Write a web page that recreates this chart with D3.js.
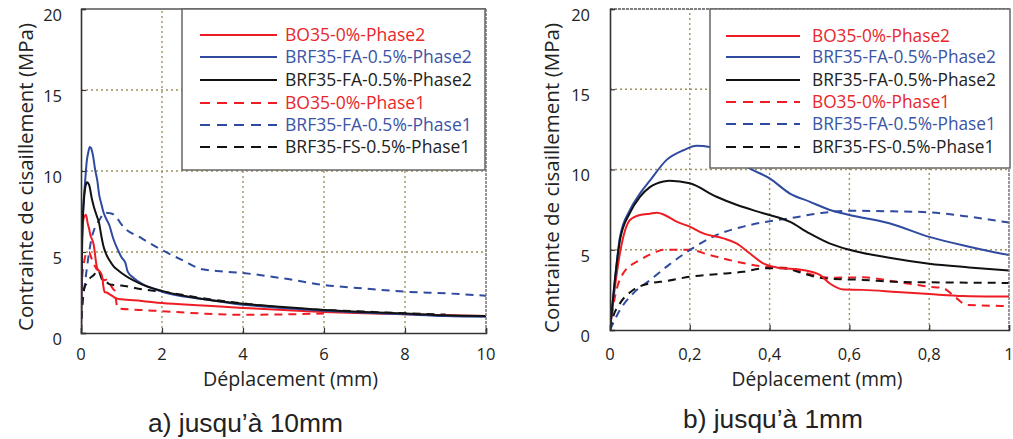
<!DOCTYPE html>
<html><head><meta charset="utf-8">
<script src="https://cdn.jsdelivr.net/npm/d3@7"></script>
<style>body{margin:0;background:#fff} svg{display:block}</style>
</head><body>
<svg id="c" width="1013" height="439"></svg>
<script>
// ---------- DATA ----------
const legendLabels = ["BO35-0%-Phase2","BRF35-FA-0.5%-Phase2","BRF35-FA-0.5%-Phase2","BO35-0%-Phase1","BRF35-FA-0.5%-Phase1","BRF35-FS-0.5%-Phase1"];
const bo35Phase2 = [[0,0],[0.01,2.2],[0.025,4.8],[0.05,6.85],[0.075,7.17],[0.1,7.25],[0.117,7.3],[0.134,7.2],[0.167,6.75],[0.2,6.44],[0.234,6.02],[0.284,5.71],[0.317,5.4],[0.35,4.78],[0.384,4.15],[0.418,3.9],[0.484,3.74],[0.526,3.43],[0.551,2.9],[0.585,2.52],[0.634,2.5],[0.718,2.37],[0.8,2.24],[0.885,2.12],[1,2.08],[1.5,1.98],[2,1.85],[3,1.7],[4,1.55],[5,1.42],[6,1.3],[7,1.22],[8,1.15],[9,1.1],[10,1.05]];
const brfFA2Blue = [[0,0],[0.01,2.5],[0.025,5.8],[0.05,7.48],[0.075,8.5],[0.1,9.3],[0.142,10.6],[0.184,11.2],[0.217,11.48],[0.25,11.4],[0.3,10.9],[0.35,10.07],[0.4,9.45],[0.451,8.5],[0.5,8.0],[0.551,7.48],[0.6,7.17],[0.7,6.65],[0.8,5.8],[0.9,5.19],[1,4.67],[1.1,4.3],[1.15,3.8],[1.3,3.4],[1.5,3.05],[2,2.55],[3,2.1],[4,1.75],[5,1.55],[6,1.38],[7,1.25],[8,1.15],[9,1.05],[10,1.0]];
const brfFA2Black = [[0,0],[0.01,2.6],[0.025,5.6],[0.05,7.3],[0.075,8.3],[0.1,8.9],[0.134,9.25],[0.15,9.3],[0.2,9.14],[0.267,8.3],[0.317,7.8],[0.384,7.27],[0.45,6.75],[0.5,6.02],[0.55,5.4],[0.6,5.0],[0.7,4.5],[0.8,4.13],[0.9,3.9],[1,3.7],[1.5,3.0],[2,2.6],[3,2.1],[4,1.8],[5,1.6],[6,1.42],[7,1.3],[8,1.2],[9,1.1],[10,1.05]];
const bo35Phase1 = [[0,0],[0.008,1.45],[0.033,3.53],[0.075,4.36],[0.117,4.88],[0.134,5.0],[0.2,5.0],[0.25,4.67],[0.317,4.26],[0.384,3.95],[0.45,3.84],[0.51,3.43],[0.551,3.26],[0.635,3.28],[0.718,3.0],[0.8,2.7],[0.835,2.6],[0.869,1.97],[0.894,1.56],[0.986,1.5],[1.5,1.42],[2,1.35],[3,1.2],[4,1.12],[5,1.15],[6,1.2]];
const brfFA1 = [[0,0],[0.025,1.25],[0.058,2.28],[0.1,3.1],[0.142,3.95],[0.2,4.98],[0.267,5.92],[0.334,6.44],[0.393,6.75],[0.451,6.96],[0.535,7.31],[0.6,7.43],[0.7,7.4],[0.8,7.33],[0.9,7.06],[1,6.7],[1.5,5.84],[2,5.12],[2.5,4.5],[3,3.93],[3.5,3.8],[4,3.7],[5,3.37],[6,2.96],[7,2.75],[8,2.55],[9,2.45],[10,2.3]];
const brfFS1 = [[0,0],[0.008,0.83],[0.025,1.66],[0.058,2.49],[0.1,2.9],[0.142,3.05],[0.2,3.32],[0.267,3.48],[0.334,3.63],[0.384,3.84],[0.434,3.84],[0.484,3.53],[0.535,3.22],[0.635,3.12],[0.718,3.0],[0.8,2.97],[1,2.93],[1.5,2.7],[2,2.55],[3,2.15],[4,1.83],[5,1.56],[6,1.42],[7,1.32],[8,1.22],[9,1.14]];
const yTicks = [0,5,10,15,20];
const xTicksA = [0,2,4,6,8,10];
const xTicksB = [0,0.2,0.4,0.6,0.8,1];
const xTitle = "Déplacement (mm)";
const yTitle = "Contrainte de cisaillement (MPa)";
const captions = ["a) jusqu’à 10mm","b) jusqu’à 1mm"];

// ---------- STYLE ----------
const RED="#ee1d24", BLUE="#2f4a9f", BLACK="#111111";
const TRED="#e8262b", TBLUE="#3b54a5", TBLACK="#222222";
const series = [
  {data:bo35Phase2, color:RED, text:TRED, dash:null},
  {data:brfFA2Blue, color:BLUE, text:TBLUE, dash:null},
  {data:brfFA2Black, color:BLACK, text:TBLACK, dash:null},
  {data:bo35Phase1, color:RED, text:TRED, dash:"8,6"},
  {data:brfFA1, color:BLUE, text:TBLUE, dash:"8,6"},
  {data:brfFS1, color:BLACK, text:TBLACK, dash:"8,6"}
];
const drawOrder = [3,4,5,0,1,2];
const FONT = "'Open Sans', sans-serif";

const svg = d3.select("#c");

function fit(sel, target){
  const w = sel.node().getComputedTextLength();
  const fs = parseFloat(sel.attr("font-size"));
  sel.attr("font-size", (fs*target/w).toFixed(2));
  return fs*target/w;
}

const panels = [
  {id:"a", x0:81, x1:486, y0:333, y1:9, xMax:10, ticks:xTicksA, fmt:d=>String(d),
   legend:{x:182, y:9, w:303, h:161, lx0:200, lx1:277, tx:285, rows:[35,57,80,103,125,147], tw:187},
   yTitle:{x:26, y:177, w:308}, xTitle:{x:290.5, y:386, w:175}, cap:{x:245.5, y:432, w:195}, ylabX:62},
  {id:"b", x0:610, x1:1009, y0:330, y1:9, xMax:1, ticks:xTicksB, fmt:d=>d===0?"0":(d===1?"1":String(d).replace(".",",")),
   legend:{x:710, y:9, w:300, h:159, lx0:726, lx1:800, tx:812, rows:[36,57,80,102,124,147], tw:184},
   yTitle:{x:552, y:178, w:310}, xTitle:{x:817, y:386, w:171}, cap:{x:773, y:428, w:180}, ylabX:590}
];

panels.forEach(p=>{
  const x = d3.scaleLinear().domain([0,p.xMax]).range([p.x0,p.x1]);
  const y = d3.scaleLinear().domain([0,20]).range([p.y0,p.y1]);
  const g = svg.append("g");

  // grid
  const GRID="#a0925e";
  g.selectAll(".vg").data(p.ticks.slice(1,-1)).join("line")
    .attr("x1",d=>x(d)).attr("x2",d=>x(d)).attr("y1",p.y0).attr("y2",p.y1)
    .attr("stroke",GRID).attr("stroke-width",1.4).attr("stroke-dasharray","2,3");
  g.selectAll(".hg").data(yTicks.slice(1,-1)).join("line")
    .attr("y1",d=>y(d)).attr("y2",d=>y(d)).attr("x1",p.x0).attr("x2",p.x1)
    .attr("stroke",GRID).attr("stroke-width",1.4).attr("stroke-dasharray","2,3");

  // clip
  svg.append("clipPath").attr("id","clip"+p.id).append("rect")
    .attr("x",p.x0).attr("y",p.y1).attr("width",p.x1-p.x0).attr("height",p.y0-p.y1);

  const line = d3.line().x(d=>x(d[0])).y(d=>y(d[1])).curve(d3.curveMonotoneX);
  const lg = g.append("g").attr("clip-path","url(#clip"+p.id+")");
  drawOrder.forEach(i=>{
    const s = series[i];
    lg.append("path").attr("d",line(s.data)).attr("fill","none")
      .attr("stroke",s.color).attr("stroke-width",2)
      .attr("stroke-dasharray",s.dash).attr("stroke-linejoin","round");
  });

  // frame
  g.append("line").attr("x1",p.x0).attr("x2",p.x1).attr("y1",p.y1).attr("y2",p.y1)
    .attr("stroke","#555").attr("stroke-width",1.5).attr("stroke-dasharray",p.id==="a"?null:"3,1");
  g.append("line").attr("x1",p.x1).attr("x2",p.x1).attr("y1",p.y1).attr("y2",p.y0)
    .attr("stroke","#777").attr("stroke-width",1.5).attr("stroke-dasharray","3,1");
  // axes
  const ya = d3.axisLeft(y).tickValues(yTicks).tickSize(-5).tickFormat("");
  const xa = d3.axisBottom(x).tickValues(p.ticks).tickSize(-5).tickFormat("");
  const yg = g.append("g").attr("transform",`translate(${p.x0},0)`).call(ya);
  const xg = g.append("g").attr("transform",`translate(0,${p.y0})`).call(xa);
  [yg,xg].forEach(a=>{a.select(".domain").attr("stroke","#333").attr("stroke-width",1.6);
    a.selectAll(".tick line").attr("stroke","#333").attr("stroke-width",1.2);});

  // tick labels
  g.selectAll(".yl").data(yTicks).join("text")
    .attr("x",p.ylabX).attr("y",d=>y(d)+6).attr("dy","0.35em").attr("text-anchor","end")
    .attr("font-family",FONT).attr("font-size",16.5).attr("fill","#222").text(d=>d);
  g.selectAll(".xl").data(p.ticks).join("text")
    .attr("x",d=>x(d)).attr("y",354).attr("dy","0.35em").attr("text-anchor","middle")
    .attr("font-family",FONT).attr("font-size",16.5).attr("fill","#222").text(p.fmt);

  // titles
  const xt = g.append("text").attr("x",p.xTitle.x).attr("y",p.xTitle.y).attr("text-anchor","middle")
    .attr("font-family",FONT).attr("font-size",18).attr("fill","#222").text(xTitle);
  fit(xt,p.xTitle.w);
  const yt = g.append("text").attr("transform",`translate(${p.yTitle.x},${p.yTitle.y}) rotate(-90)`)
    .attr("dy","0.35em").attr("text-anchor","middle")
    .attr("font-family",FONT).attr("font-size",18).attr("fill","#222").text(yTitle);
  fit(yt,p.yTitle.w);
  const ct = g.append("text").attr("x",p.cap.x).attr("y",p.cap.y).attr("text-anchor","middle")
    .attr("font-family","'Liberation Sans', Arial, sans-serif").attr("font-size",24).attr("fill","#222").text(captions[p.id==="a"?0:1]);
  fit(ct,p.cap.w);

  // legend
  const L = p.legend;
  const leg = g.append("g");
  leg.append("rect").attr("x",L.x).attr("y",L.y).attr("width",L.w).attr("height",L.h)
    .attr("fill","#fff").attr("stroke","#666").attr("stroke-width",1.5);
  const probe = leg.append("text").attr("font-family",FONT).attr("font-size",16).text(legendLabels[1]);
  const lfs = fit(probe, L.tw); probe.remove();
  series.forEach((s,i)=>{
    leg.append("line").attr("x1",L.lx0).attr("x2",L.lx1).attr("y1",L.rows[i]).attr("y2",L.rows[i])
      .attr("stroke",s.color).attr("stroke-width",2).attr("stroke-dasharray",s.dash?"10,7":null);
    leg.append("text").attr("x",L.tx).attr("y",L.rows[i]).attr("dy","0.36em")
      .attr("font-family",FONT).attr("font-size",lfs).attr("fill",s.text).text(legendLabels[i]);
  });
});
</script>
</body></html>
